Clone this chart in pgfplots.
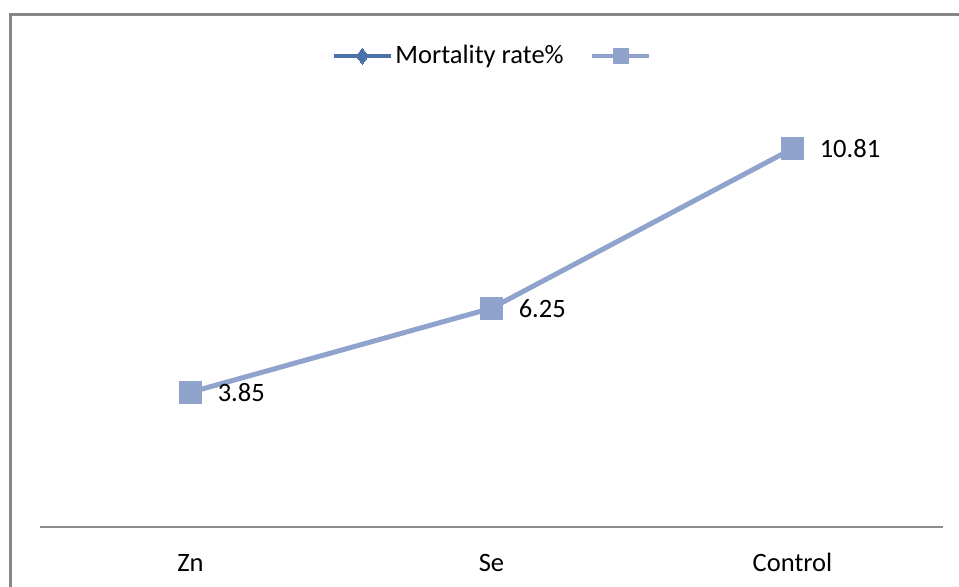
\documentclass[border=0pt]{standalone}
\usepackage{fontspec}
\setmainfont{Carlito}
\usepackage{pgfplots}
\pgfplotsset{compat=1.18}
\definecolor{serlight}{RGB}{143,163,204}
\definecolor{serdark}{RGB}{74,114,168}
\definecolor{framegray}{RGB}{134,134,134}
\definecolor{axgray}{RGB}{140,140,140}
\begin{document}
\fontsize{19.9}{24}\selectfont
\begin{tikzpicture}
\useasboundingbox (0,0) rectangle (719.25pt,439.5pt);
\begin{axis}[
  at={(30pt,44.25pt)}, anchor=south west, scale only axis,
  width=677.25pt, height=315pt,
  xmin=-0.5, xmax=2.5, ymin=0, ymax=12,
  axis y line=none, axis x line*=bottom,
  x axis line style={-, draw=axgray, line width=1.1pt},
  xtick={0,1,2}, xticklabels={Zn,Se,Control}, major tick length=0pt,
  xticklabel style={anchor=base, yshift=-33pt, font=\fontsize{19.9}{24}\selectfont},
  clip=false,
  legend style={at={(0.503,1.1214)}, anchor=center, draw=none, fill=none,
    legend columns=2, font=\fontsize{19.9}{24}\selectfont,
    /tikz/every even column/.append style={column sep=18pt}},
  legend image code/.code={\draw[mark repeat=2,mark phase=2,#1] plot coordinates {(0pt,0pt) (21.4pt,0pt) (42.75pt,0pt)};},
]
\addlegendimage{serdark, line width=3pt, mark=diamond*, mark size=6pt, mark options={line width=0pt}}
\addlegendentry{Mortality rate\%}
\addlegendimage{serlight, line width=3pt, mark=square*, mark size=5.6pt, mark options={line width=0pt}}
\addlegendentry{\strut}
\addplot[serlight, line width=3.75pt, mark=square*, mark size=8.25pt, mark options={line width=0.4pt}, forget plot,
  point meta=explicit symbolic, nodes near coords,
  nodes near coords style={anchor=west, xshift=20.25pt, inner sep=0pt, text=black, font=\fontsize{19.9}{24}\selectfont}]
  coordinates {(0,3.85)[3.85] (1,6.25)[6.25] (2,10.81)[10.81]};
\end{axis}
\draw[framegray, line width=2.25pt] (7.5pt,-2pt) -- (7.5pt,428.25pt) -- (722pt,428.25pt);
\end{tikzpicture}
\end{document}
